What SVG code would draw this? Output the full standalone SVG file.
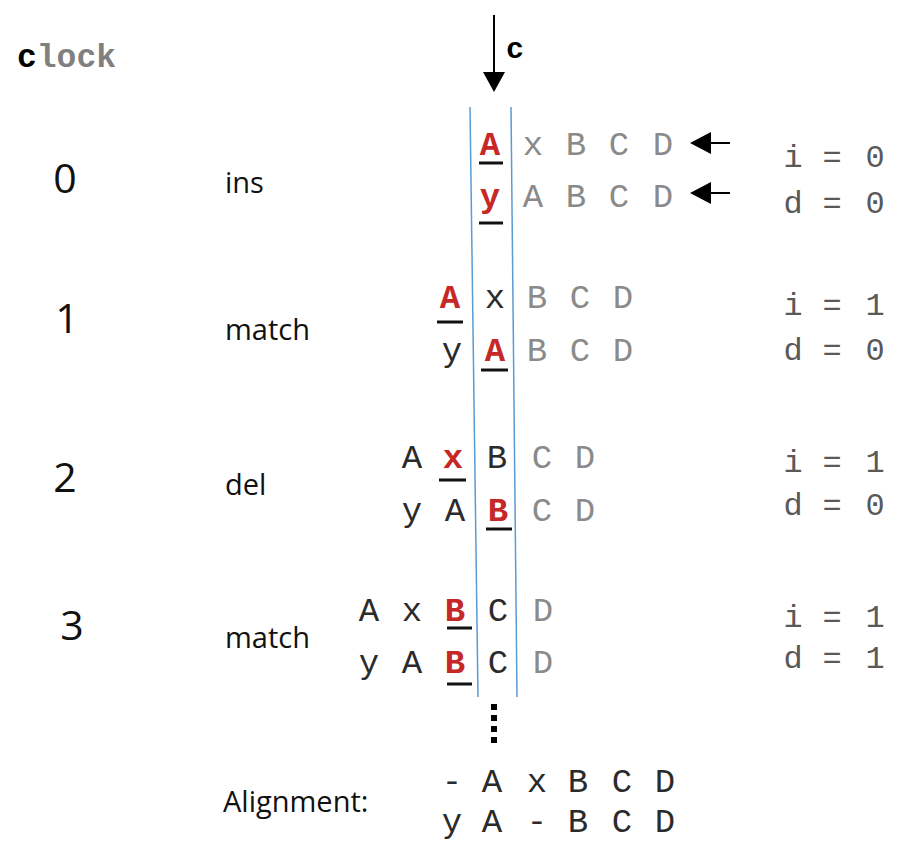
<svg xmlns="http://www.w3.org/2000/svg" width="899" height="849" viewBox="0 0 899 849">
<defs>
<style>
.m{font-family:"Liberation Mono","Courier New",monospace;font-size:34px;text-anchor:middle}
.g{fill:#8a8a8a}
.k{fill:#2b2b2b}
.r{fill:#c62828;font-weight:bold}
.v{font-family:"Liberation Mono","Courier New",monospace;font-size:32px;fill:#595959;text-anchor:middle}
.s{font-family:"Open Sans","Liberation Sans",sans-serif;font-size:29px;fill:#111}
.n{font-family:"Open Sans","Liberation Sans",sans-serif;font-size:41px;fill:#111;text-anchor:middle}
.u{stroke:#111;stroke-width:3}
.b{stroke:#5b9bd5;stroke-width:1.5;fill:none}
.a{stroke:#000;stroke-width:2;fill:none}
</style>
</defs>
<rect width="899" height="849" fill="#fff"/>
<g id="title">
<text x="17" y="67" font-family="'Liberation Mono',monospace" font-size="33" font-weight="bold"><tspan fill="#000">c</tspan><tspan fill="#808080">lock</tspan></text>
</g>
<g id="cursor">
<line x1="494" y1="15" x2="494" y2="74" class="a"/>
<polygon points="483,72 505,72 494,92" fill="#000"/>
<text x="515" y="58" font-family="'Liberation Mono',monospace" font-size="30" font-weight="bold" text-anchor="middle" fill="#000">c</text>
<line x1="470" y1="107" x2="478" y2="697" class="b"/>
<line x1="511" y1="107" x2="517" y2="697" class="b"/>
</g>
<g id="connectors">
<line x1="730" y1="143" x2="708" y2="143" class="a" stroke-width="2.5"/>
<polygon points="711,132 711,154 690,143" fill="#000"/>
<line x1="730" y1="193" x2="708" y2="193" class="a" stroke-width="2.5"/>
<polygon points="711,182 711,204 690,193" fill="#000"/>
</g>
<g id="step0">
<text class="n" x="65" y="193">0</text>
<text class="s" x="225" y="193">ins</text>
<text class="m r" x="490" y="155">A</text>
<text class="m g" x="533" y="155">x</text><text class="m g" x="576" y="155">B</text><text class="m g" x="619" y="155">C</text><text class="m g" x="663" y="155">D</text>
<line x1="479" y1="163" x2="503" y2="163" class="u"/>
<text class="m r" x="490" y="207">y</text>
<text class="m g" x="533" y="207">A</text><text class="m g" x="576" y="207">B</text><text class="m g" x="619" y="207">C</text><text class="m g" x="663" y="207">D</text>
<line x1="479" y1="223" x2="503" y2="223" class="u"/>
<text class="v" x="793" y="167">i</text><text class="v" x="832" y="167">=</text><text class="v" x="875" y="167">0</text>
<text class="v" x="793" y="213">d</text><text class="v" x="832" y="213">=</text><text class="v" x="875" y="213">0</text>
</g>
<g id="step1">
<text class="n" x="67" y="333">1</text>
<text class="s" x="225" y="340">match</text>
<text class="m r" x="450" y="308">A</text>
<text class="m k" x="495" y="308">x</text>
<text class="m g" x="537" y="308">B</text><text class="m g" x="580" y="308">C</text><text class="m g" x="623" y="308">D</text>
<line x1="437" y1="322" x2="463" y2="322" class="u"/>
<text class="m k" x="452" y="361">y</text>
<text class="m r" x="495" y="361">A</text>
<text class="m g" x="537" y="361">B</text><text class="m g" x="580" y="361">C</text><text class="m g" x="623" y="361">D</text>
<line x1="481" y1="370" x2="508" y2="370" class="u"/>
<text class="v" x="793" y="315">i</text><text class="v" x="832" y="315">=</text><text class="v" x="875" y="315">1</text>
<text class="v" x="793" y="360">d</text><text class="v" x="832" y="360">=</text><text class="v" x="875" y="360">0</text>
</g>
<g id="step2">
<text class="n" x="65" y="492">2</text>
<text class="s" x="225" y="495">del</text>
<text class="m k" x="412" y="468">A</text>
<text class="m r" x="453" y="468">x</text>
<text class="m k" x="497" y="468">B</text>
<text class="m g" x="542" y="468">C</text><text class="m g" x="585" y="468">D</text>
<line x1="439" y1="480" x2="466" y2="480" class="u"/>
<text class="m k" x="412" y="521">y</text>
<text class="m k" x="455" y="521">A</text>
<text class="m r" x="498" y="521">B</text>
<text class="m g" x="542" y="521">C</text><text class="m g" x="585" y="521">D</text>
<line x1="486" y1="529" x2="512" y2="529" class="u"/>
<text class="v" x="793" y="472">i</text><text class="v" x="832" y="472">=</text><text class="v" x="875" y="472">1</text>
<text class="v" x="793" y="515">d</text><text class="v" x="832" y="515">=</text><text class="v" x="875" y="515">0</text>
</g>
<g id="step3">
<text class="n" x="72" y="640">3</text>
<text class="s" x="225" y="648">match</text>
<text class="m k" x="369" y="621">A</text>
<text class="m k" x="412" y="621">x</text>
<text class="m r" x="455" y="621">B</text>
<text class="m k" x="498" y="621">C</text>
<text class="m g" x="543" y="621">D</text>
<line x1="447" y1="628" x2="472" y2="628" class="u"/>
<text class="m k" x="369" y="673">y</text>
<text class="m k" x="412" y="673">A</text>
<text class="m r" x="455" y="673">B</text>
<text class="m k" x="498" y="673">C</text>
<text class="m g" x="543" y="673">D</text>
<line x1="447" y1="684" x2="472" y2="684" class="u"/>
<text class="v" x="793" y="627">i</text><text class="v" x="832" y="627">=</text><text class="v" x="875" y="627">1</text>
<text class="v" x="793" y="668">d</text><text class="v" x="832" y="668">=</text><text class="v" x="875" y="668">1</text>
</g>
<g id="ellipsis" fill="#000">
<rect x="491" y="704" width="6" height="6"/>
<rect x="491" y="715" width="6" height="6"/>
<rect x="491" y="726" width="6" height="6"/>
<rect x="491" y="737" width="6" height="6"/>
</g>
<g id="alignment">
<text class="s" x="223" y="812" font-size="31">Alignment:</text>
<text class="m k" x="452" y="792">-</text><text class="m k" x="492" y="792">A</text><text class="m k" x="537" y="792">x</text><text class="m k" x="578" y="792">B</text><text class="m k" x="622" y="792">C</text><text class="m k" x="665" y="792">D</text>
<text class="m k" x="452" y="832">y</text><text class="m k" x="492" y="832">A</text><text class="m k" x="537" y="832">-</text><text class="m k" x="578" y="832">B</text><text class="m k" x="622" y="832">C</text><text class="m k" x="665" y="832">D</text>
</g>
</svg>
